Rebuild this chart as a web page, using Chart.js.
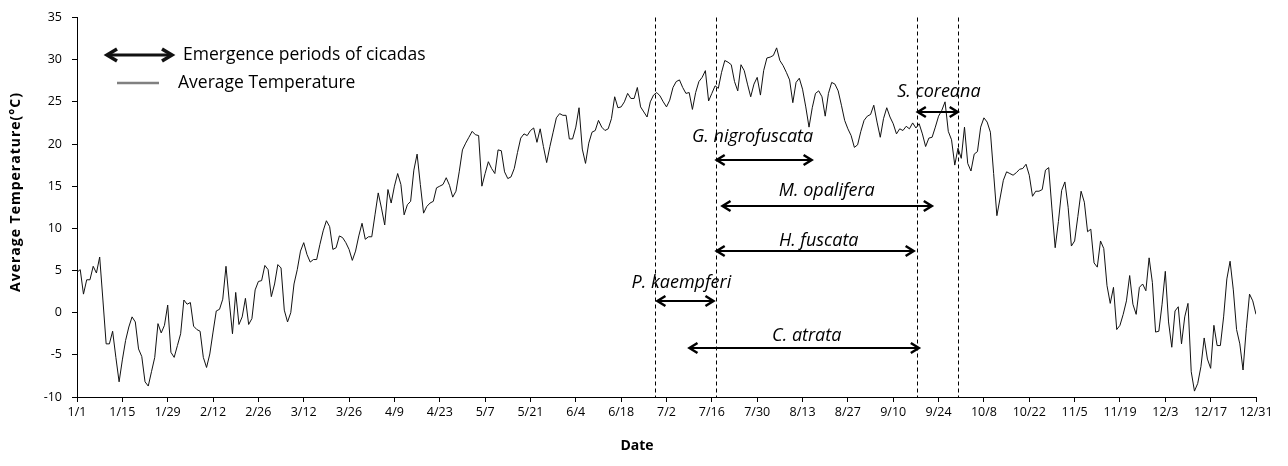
<!DOCTYPE html>
<html>
<head>
<meta charset="utf-8">
<script src="https://cdn.jsdelivr.net/npm/chart.js@4.4.1/dist/chart.umd.min.js"></script>
<style>
  html, body { margin: 0; padding: 0; background: #fff; }
</style>
</head>
<body>
<canvas id="chart" width="1288" height="466"></canvas>
<script>
// x tick labels, one every 14 days
const tickLabels = ['1/1', '1/15', '1/29', '2/12', '2/26', '3/12', '3/26', '4/9', '4/23', '5/7', '5/21', '6/4', '6/18',
    '7/2', '7/16', '7/30', '8/13', '8/27', '9/10', '9/24', '10/8', '10/22', '11/5', '11/19', '12/3', '12/17', '12/31'];

// daily average temperature (°C), 1/1 .. 12/31
const temps = [
    4.8, 5.1, 2.2, 3.9, 3.9, 5.5, 4.7, 6.6, 1.5, -3.7, -3.7, -2.2, -5.3, -8.2,
    -5.6, -3.3, -1.7, -0.5, -1.1, -4.3, -5.2, -8.2, -8.7, -7.0, -5.3, -1.3, -2.4, -1.5,
    0.9, -4.7, -5.3, -3.9, -2.5, 1.5, 1.0, 1.2, -1.6, -2.0, -2.2, -5.3, -6.5, -4.9,
    -2.3, 0.2, 0.4, 1.6, 5.5, 1.4, -2.5, 2.4, -1.4, -0.5, 1.7, -1.4, -0.7, 2.7,
    3.7, 3.8, 5.6, 5.1, 1.9, 3.4, 5.7, 5.3, 0.3, -1.1, 0.0, 3.4, 5.1, 7.3,
    8.3, 6.9, 6.0, 6.3, 6.3, 8.1, 9.7, 10.9, 10.2, 7.5, 7.7, 9.1, 8.9, 8.3,
    7.5, 6.2, 7.3, 9.1, 10.6, 8.7, 9.0, 9.0, 11.6, 14.2, 12.4, 10.4, 14.6, 13.0,
    15.0, 16.5, 15.2, 11.6, 12.8, 13.2, 16.9, 18.8, 15.2, 11.8, 12.6, 13.0, 13.2, 14.8,
    15.0, 15.2, 16.0, 15.1, 13.7, 14.4, 16.7, 19.3, 20.1, 20.8, 21.5, 21.1, 21.0, 15.0,
    16.5, 17.9, 17.1, 16.5, 19.3, 19.2, 16.7, 15.9, 16.1, 17.1, 19.0, 20.7, 21.2, 21.0,
    21.6, 21.9, 20.2, 21.8, 19.7, 17.8, 19.7, 21.4, 23.1, 23.6, 23.4, 23.4, 20.6, 20.6,
    22.0, 24.3, 19.4, 17.7, 20.1, 21.4, 21.6, 22.8, 22.0, 21.6, 21.8, 23.0, 25.6, 24.3,
    24.4, 25.0, 26.0, 25.4, 25.4, 26.7, 24.4, 23.8, 23.2, 25.0, 25.8, 26.1, 25.7, 25.0,
    24.4, 25.2, 26.7, 27.4, 27.6, 26.7, 26.0, 26.1, 24.1, 26.1, 27.4, 27.9, 28.7, 25.1,
    26.0, 26.9, 26.6, 28.5, 29.9, 29.7, 29.4, 27.4, 26.3, 29.4, 28.7, 27.1, 25.6, 27.1,
    27.9, 25.8, 28.7, 30.2, 30.3, 30.5, 31.4, 29.9, 29.3, 28.5, 27.6, 24.9, 27.3, 27.8,
    26.5, 24.4, 22.0, 24.3, 26.0, 26.3, 25.6, 23.3, 26.0, 27.3, 27.1, 26.3, 24.6, 22.8,
    21.8, 21.0, 19.6, 19.9, 21.5, 22.8, 23.3, 23.5, 24.6, 22.6, 20.8, 23.0, 24.3, 23.2,
    22.4, 21.2, 21.8, 21.6, 22.1, 21.8, 22.5, 21.9, 22.4, 21.2, 19.7, 20.7, 20.8, 22.0,
    23.3, 24.0, 25.0, 21.5, 20.5, 17.5, 19.5, 18.3, 22.0, 17.7, 16.8, 18.8, 19.1, 22.0,
    23.1, 22.6, 21.4, 16.5, 11.5, 13.6, 15.7, 16.7, 16.5, 16.3, 16.6, 17.0, 17.1, 17.6,
    16.3, 13.8, 14.4, 14.4, 14.6, 16.9, 17.2, 12.3, 7.7, 10.8, 14.5, 15.5, 12.5, 7.9,
    8.5, 11.4, 14.4, 13.1, 9.6, 9.9, 5.9, 5.4, 8.5, 7.6, 3.2, 1.1, 3.0, -2.0,
    -1.5, -0.2, 1.4, 4.4, 1.0, -0.2, 3.0, 3.4, 2.6, 6.5, 3.6, -2.3, -2.2, 1.0,
    4.9, -1.1, -4.1, 0.2, 0.7, -3.7, -0.5, 1.1, -7.0, -9.3, -8.4, -6.4, -3.0, -5.5,
    -6.6, -1.5, -3.9, -3.9, -0.5, 4.0, 6.1, 2.7, -2.0, -3.7, -6.8, -1.9, 2.2, 1.4,
    -0.2
];

// emergence periods of cicadas (day of year), arrow level on the temperature axis
const species = ['S. coreana', 'G. nigrofuscata', 'M. opalifera', 'H. fuscata', 'P. kaempferi', 'C. atrata'];
const periodStart = [259.6, 197.5, 199.3, 197.5, 179.2, 189.1];
const periodEnd = [271.9, 226.8, 263.9, 258.3, 196.5, 259.9];
const periodLevel = [23.8, 18.1, 12.6, 7.3, 1.4, -4.2];
const labelDay = [266.1, 208.6, 231.5, 229.0, 186.6, 225.3];
const labelLevel = [26.2, 20.8, 14.4, 8.5, 3.5, -2.7];

// dashed boundary days
const boundaryDays = [178.6, 197.2, 259.3, 271.9];

const FONT = "'Open Sans', 'Noto Sans', sans-serif";

function drawArrow(ctx, x1, x2, y, width, head, half) {
    ctx.lineWidth = width;
    ctx.beginPath();
    ctx.moveTo(x1, y);
    ctx.lineTo(x2, y);
    ctx.stroke();
    ctx.lineWidth = width + 0.5;
    ctx.beginPath();
    ctx.moveTo(x1 + head, y - half);
    ctx.lineTo(x1, y);
    ctx.lineTo(x1 + head, y + half);
    ctx.moveTo(x2 - head, y - half);
    ctx.lineTo(x2, y);
    ctx.lineTo(x2 - head, y + half);
    ctx.stroke();
}

const cicadaPlugin = {
    id: 'cicadas',
    afterDraw(chart) {
        const { ctx, chartArea, scales: { x, y } } = chart;
        ctx.save();
        ctx.strokeStyle = '#000';
        ctx.fillStyle = '#000';

        // period boundaries
        ctx.lineWidth = 1;
        ctx.setLineDash([4, 3]);
        boundaryDays.forEach(d => {
            const px = Math.round(x.getPixelForValue(d)) + 0.5;
            ctx.beginPath();
            ctx.moveTo(px, chartArea.top);
            ctx.lineTo(px, chartArea.bottom);
            ctx.stroke();
        });
        ctx.setLineDash([]);

        // arrows + species names
        ctx.font = `italic 18px ${FONT}`;
        ctx.textAlign = 'center';
        ctx.textBaseline = 'middle';
        species.forEach((name, i) => {
            const x1 = x.getPixelForValue(periodStart[i]);
            const x2 = x.getPixelForValue(periodEnd[i]);
            const py = Math.round(y.getPixelForValue(periodLevel[i]));
            drawArrow(ctx, x1, x2, py, 2, 8, 5);
            ctx.fillText(name, x.getPixelForValue(labelDay[i]), y.getPixelForValue(labelLevel[i]));
        });

        // legend
        ctx.strokeStyle = '#111';
        drawArrow(ctx, 107, 172, 55, 3, 10, 6);
        ctx.strokeStyle = '#808080';
        ctx.lineWidth = 2.5;
        ctx.beginPath();
        ctx.moveTo(117, 83);
        ctx.lineTo(159, 83);
        ctx.stroke();
        ctx.font = `17.5px ${FONT}`;
        ctx.textAlign = 'left';
        ctx.fillText('Emergence periods of cicadas', 183, 55);
        ctx.fillText('Average Temperature', 178, 83);

        // axis titles
        ctx.font = `bold 14px ${FONT}`;
        ctx.textAlign = 'center';
        ctx.fillText('Date', 637, 446);
        ctx.translate(16, 192);
        ctx.rotate(-Math.PI / 2);
        ctx.letterSpacing = '1px';
        ctx.fillText('Average Temperature(°C)', 0, 0);
        ctx.restore();
    }
};

const ctx = document.getElementById('chart').getContext('2d');
new Chart(ctx, {
    type: 'line',
    data: {
        datasets: [{
            label: 'Average Temperature',
            data: temps.map((t, i) => ({ x: i, y: t })),
            borderColor: '#111',
            borderWidth: 1,
            pointRadius: 0,
            tension: 0
        }]
    },
    options: {
        responsive: false,
        animation: false,
        layout: { padding: { left: 0, right: 32, top: 15, bottom: 0 } },
        plugins: {
            legend: { display: false },
            tooltip: { enabled: false }
        },
        scales: {
            x: {
                type: 'linear',
                min: 0,
                max: 364,
                afterFit: s => { s.height = 69; },
                grid: { drawOnChartArea: false, drawTicks: true, tickLength: 5, color: '#000' },
                border: { color: '#000', width: 1 },
                ticks: {
                    stepSize: 14,
                    autoSkip: false,
                    maxRotation: 0,
                    padding: 3,
                    color: '#000',
                    font: { family: FONT, size: 12.5 },
                    callback: v => tickLabels[Math.round(v / 14)]
                }
            },
            y: {
                min: -10,
                max: 35,
                afterFit: s => { s.width = 77; },
                grid: { drawOnChartArea: false, drawTicks: true, tickLength: 5, color: '#000' },
                border: { color: '#000', width: 1 },
                ticks: {
                    stepSize: 5,
                    padding: 10,
                    color: '#000',
                    font: { family: FONT, size: 12.5 }
                }
            }
        }
    },
    plugins: [cicadaPlugin]
});
</script>
</body>
</html>
